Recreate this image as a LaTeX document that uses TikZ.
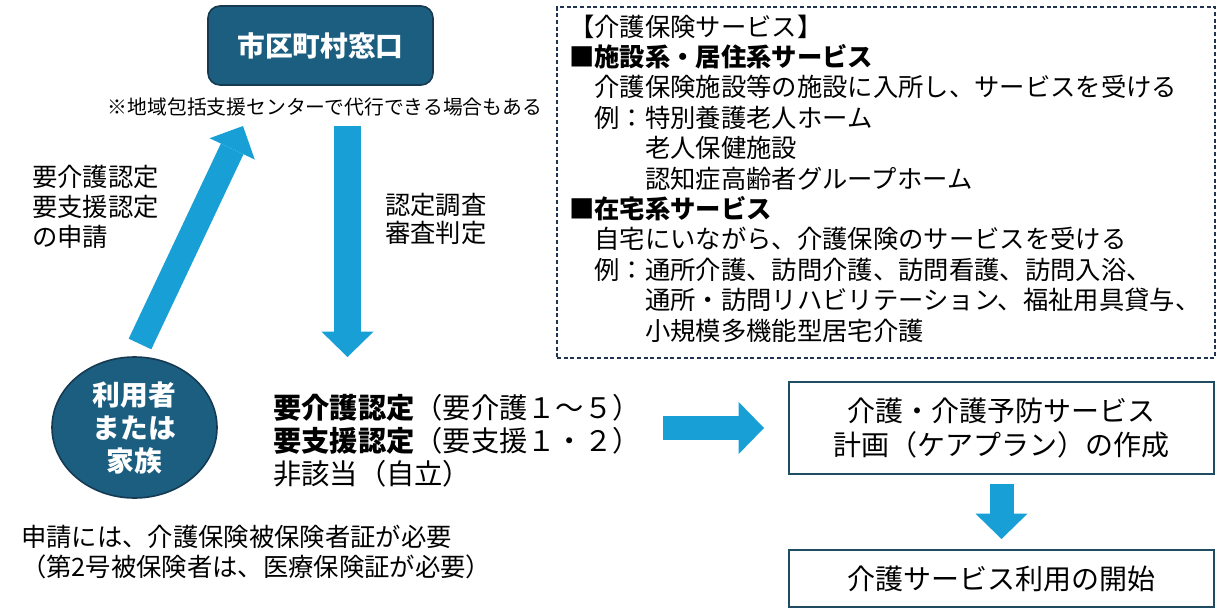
\documentclass[tikz,border=0pt]{standalone}
\usepackage{fontspec}
\setmainfont{Noto Sans CJK JP}
\usetikzlibrary{arrows.meta,shapes.geometric,positioning,calc}
\definecolor{kgnavy}{RGB}{27,94,128}
\definecolor{kgdark}{RGB}{22,58,82}
\definecolor{kgblue}{RGB}{24,160,214}
\definecolor{kgline}{RGB}{31,76,96}
\definecolor{kgdash}{RGB}{32,52,82}

\begin{document}
\begin{tikzpicture}[
    x=0.75pt, y=-0.75pt,
    office/.style={draw=kgdark, line width=1.2pt, fill=kgnavy, rounded corners=9pt,
                   minimum width=168.75pt, minimum height=59.25pt, text=white,
                   font=\fontsize{20.8pt}{25pt}\selectfont\bfseries},
    person/.style={ellipse, draw=kgdark, line width=1.2pt, fill=kgnavy, text=white,
                   align=center, inner sep=0pt, minimum width=123.75pt, minimum height=105.75pt,
                   font=\fontsize{20.8pt}{24.75pt}\selectfont\bfseries},
    stagebox/.style={draw=kgline, line width=1.9pt, minimum width=318.75pt, align=center,
                     font=\fontsize{21pt}{25.5pt}\selectfont},
    lbl/.style={inner sep=0pt, align=left, anchor=west},
    bigarrow/.style={draw=kgblue, line width=20pt,
                     -{Triangle[width=39pt,length=19pt,line width=0pt]}}
]
    \useasboundingbox (0,0) rectangle (1227,614);

    \node[office] (madoguchi) at (320.5,45.5) {市区町村窓口};
    \node[inner sep=0pt, font=\fontsize{14.85pt}{18pt}\selectfont] (note) at (325,107)
        {※地域包括支援センターで代行できる場合もある};

    \node[person] (riyosha) at (134.5,427.5) {利用者\\または\\家族};

    \node[lbl, font=\fontsize{19pt}{22.5pt}\selectfont] (shinsei) at (32,207)
        {要介護認定\\要支援認定\\の申請};
    \node[lbl, font=\fontsize{19pt}{21pt}\selectfont] (chosa) at (385,219)
        {認定調査\\審査判定};

    \node[lbl, font=\fontsize{21.2pt}{24.75pt}\selectfont] (nintei) at (273,441)
        {\textbf{要介護認定}（要介護１～５）\\\textbf{要支援認定}（要支援１・２）\\非該当（自立）};

    \node[lbl, font=\fontsize{19pt}{22.5pt}\selectfont] (hoken) at (21,552)
        {申請には、介護保険被保険者証が必要\\（第2号被保険者は、医療保険証が必要）};

    % service list
    \node[draw=kgdash, line width=1.1pt, dash pattern=on 3pt off 2pt,
          minimum width=493.5pt, minimum height=263.25pt] (frame) at (886,182.5) {};
    \node[lbl, font=\fontsize{19pt}{22.8pt}\selectfont] (services) at (569,178.5)
        {【介護保険サービス】\\
         \textbf{■施設系・居住系サービス}\\
         \hspace*{1em}介護保険施設等の施設に入所し、サービスを受ける\\
         \hspace*{1em}例：特別養護老人ホーム\\
         \hspace*{3em}老人保健施設\\
         \hspace*{3em}認知症高齢者グループホーム\\
         \textbf{■在宅系サービス}\\
         \hspace*{1em}自宅にいながら、介護保険のサービスを受ける\\
         \hspace*{1em}例：通所介護、訪問介護、訪問看護、訪問入浴、\\
         \hspace*{3em}通所・訪問リハビリテーション、福祉用具貸与、\\
         \hspace*{3em}小規模多機能型居宅介護};

    \node[stagebox, minimum height=69pt] (plan) at (1001.5,428)
        {介護・介護予防サービス\\計画（ケアプラン）の作成};
    \node[stagebox, minimum height=42.75pt] (kaishi) at (1001.5,578.5)
        {介護サービス利用の開始};

    % arrows
    \coordinate (upA) at (140,344);
    \coordinate (upB) at (243,126);
    \coordinate (dnA) at (347.5,126);
    \coordinate (dnB) at (347.5,357);
    \coordinate (rtA) at (663,428);
    \coordinate (rtB) at (764,428);
    \coordinate (stA) at (1001.5,484);
    \coordinate (stB) at (1001.5,539);

    \draw[bigarrow, line width=18.75pt, -{Triangle[width=37.5pt,length=19pt,line width=0pt]}] (upA) -- (upB);
    \draw[bigarrow] (dnA) -- (dnB);
    \draw[bigarrow, line width=18pt] (rtA) -- (rtB);
    \draw[bigarrow, line width=18pt] (stA) -- (stB);
\end{tikzpicture}
\end{document}
